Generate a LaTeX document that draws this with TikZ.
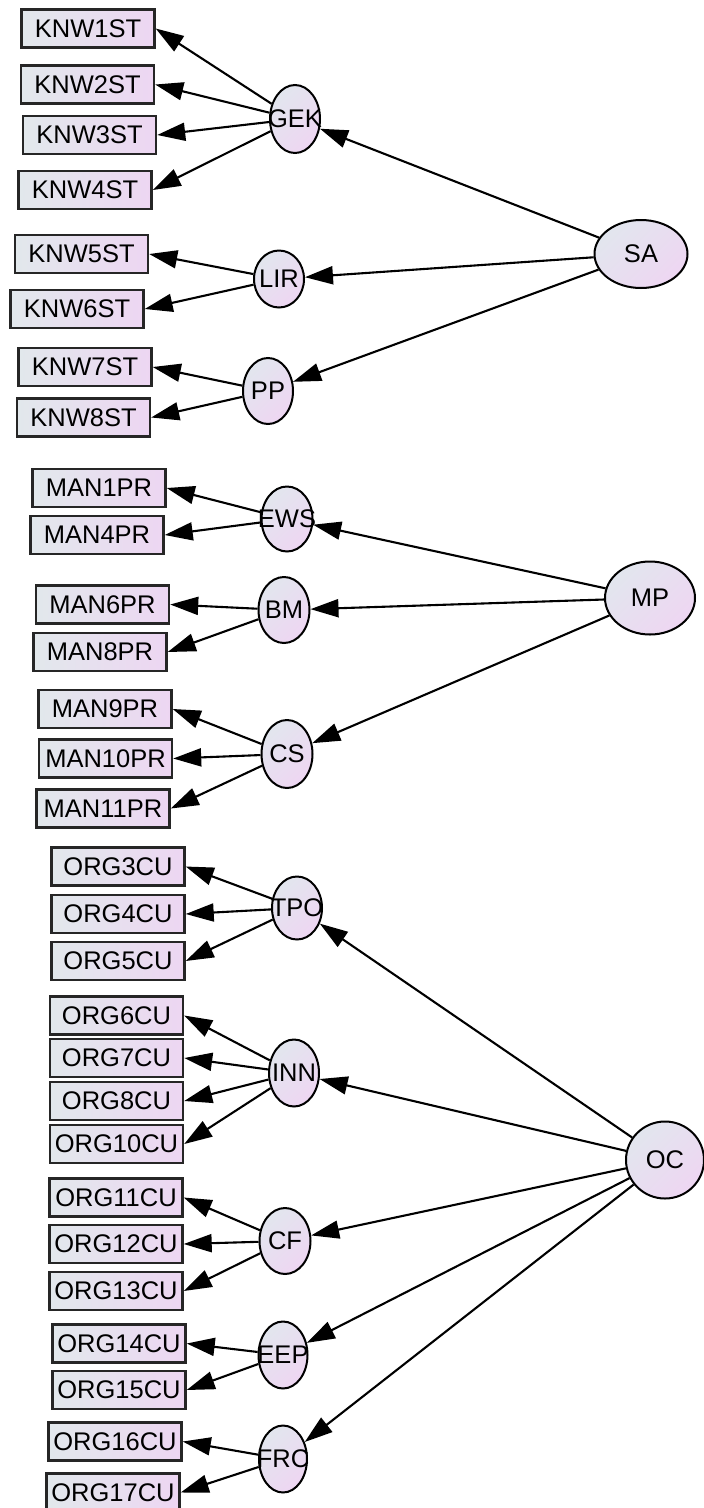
\documentclass[tikz,border=0pt]{standalone}
\usepackage{fontspec}
\setmainfont{Liberation Sans}
\usetikzlibrary{shapes.geometric,arrows.meta}
\definecolor{boxL}{HTML}{E2E8EC}
\definecolor{boxR}{HTML}{EDD6F2}
\definecolor{ellB}{HTML}{E2E6EE}
\definecolor{ellP}{HTML}{EED6F2}
\newcommand\labfont{\fontsize{25.5pt}{30pt}\selectfont}
\tikzset{
  ind/.style={draw=black!85, line width=2.4pt, left color=boxL, right color=boxR,
    minimum width=133pt, minimum height=38pt, inner sep=0pt, font=\labfont},
  lat/.style={ellipse, draw=black, line width=2pt, top color=ellB, bottom color=ellP,
    shading angle=45, inner sep=0pt, font=\labfont},
  arr/.style={draw=black, line width=2.1pt, -{Triangle[length=28pt,width=18pt]}}
}
\begin{document}
\begin{tikzpicture}[x=1pt,y=-1pt]
\useasboundingbox (0,0) rectangle (704,1508);
\fill[white] (0,0) rectangle (704,1508);
% indicators
\node[ind] (k1) at (88,28.5) {KNW1ST};
\node[ind] (k2) at (87.5,84.5) {KNW2ST};
\node[ind] (k3) at (89.5,135) {KNW3ST};
\node[ind] (k4) at (85,190) {KNW4ST};
\node[ind] (k5) at (81.5,254) {KNW5ST};
\node[ind] (k6) at (77,309) {KNW6ST};
\node[ind] (k7) at (85,367) {KNW7ST};
\node[ind] (k8) at (83.5,417.5) {KNW8ST};
\node[ind] (m1) at (99,488) {MAN1PR};
\node[ind] (m4) at (97,535) {MAN4PR};
\node[ind] (m6) at (102.5,604.5) {MAN6PR};
\node[ind] (m8) at (100,652) {MAN8PR};
\node[ind] (m9) at (105,709) {MAN9PR};
\node[ind] (m10) at (105.5,758.5) {MAN10PR};
\node[ind] (m11) at (103,808.5) {MAN11PR};
\node[ind] (o3) at (118,866.5) {ORG3CU};
\node[ind] (o4) at (118,914) {ORG4CU};
\node[ind] (o5) at (118,961) {ORG5CU};
\node[ind] (o6) at (116.5,1015.5) {ORG6CU};
\node[ind] (o7) at (116.5,1058) {ORG7CU};
\node[ind] (o8) at (116.5,1101) {ORG8CU};
\node[ind] (o10) at (116.5,1144) {ORG10CU};
\node[ind] (o11) at (116,1197.5) {ORG11CU};
\node[ind] (o12) at (116,1244) {ORG12CU};
\node[ind] (o13) at (116,1291) {ORG13CU};
\node[ind] (o14) at (119,1343.5) {ORG14CU};
\node[ind] (o15) at (119,1390) {ORG15CU};
\node[ind] (o16) at (115,1441.5) {ORG16CU};
\node[ind] (o17) at (113,1492.5) {ORG17CU};
% first-order latents
\node[lat, minimum width=50pt, minimum height=68pt] (GEK) at (295,119) {\makebox[0pt]{GEK}};
\node[lat, minimum width=50pt, minimum height=57pt] (LIR) at (279,279) {\makebox[0pt]{LIR}};
\node[lat, minimum width=50pt, minimum height=66pt] (PP) at (268,391) {\makebox[0pt]{PP}};
\node[lat, minimum width=51pt, minimum height=65pt] (EWS) at (287,519) {\makebox[0pt]{EWS}};
\node[lat, minimum width=51pt, minimum height=66pt] (BM) at (284,610) {\makebox[0pt]{BM}};
\node[lat, minimum width=51pt, minimum height=68pt] (CS) at (287,754) {\makebox[0pt]{CS}};
\node[lat, minimum width=50pt, minimum height=63pt] (TPO) at (297,908) {\makebox[0pt]{TPO}};
\node[lat, minimum width=50pt, minimum height=67pt] (INN) at (294,1073) {\makebox[0pt]{INN}};
\node[lat, minimum width=51pt, minimum height=66pt] (CF) at (285,1241) {\makebox[0pt]{CF}};
\node[lat, minimum width=49pt, minimum height=67pt] (EEP) at (283,1355) {\makebox[0pt]{EEP}};
\node[lat, minimum width=48pt, minimum height=67pt] (FRC) at (283,1459) {\makebox[0pt]{FRC}};
% second-order latents
\node[lat, minimum width=93pt, minimum height=68pt] (SA) at (641,254) {SA};
\node[lat, minimum width=90pt, minimum height=73pt] (MP) at (650,598) {MP};
\node[lat, minimum width=78pt, minimum height=77pt] (OC) at (665,1160) {OC};
% loadings
\foreach \s/\t in {GEK/k1,GEK/k2,GEK/k3,GEK/k4,LIR/k5,LIR/k6,PP/k7,PP/k8,
  EWS/m1,EWS/m4,BM/m6,BM/m8,CS/m9,CS/m10,CS/m11,
  TPO/o3,TPO/o4,TPO/o5,INN/o6,INN/o7,INN/o8,INN/o10,
  CF/o11,CF/o12,CF/o13,EEP/o14,EEP/o15,FRC/o16,FRC/o17}
  \draw[arr] (\s) -- (\t.east);
\foreach \s/\t in {SA/GEK,SA/LIR,SA/PP,MP/EWS,MP/BM,MP/CS,
  OC/TPO,OC/INN,OC/CF,OC/EEP,OC/FRC}
  \draw[arr] (\s) -- (\t);
\end{tikzpicture}
\end{document}
